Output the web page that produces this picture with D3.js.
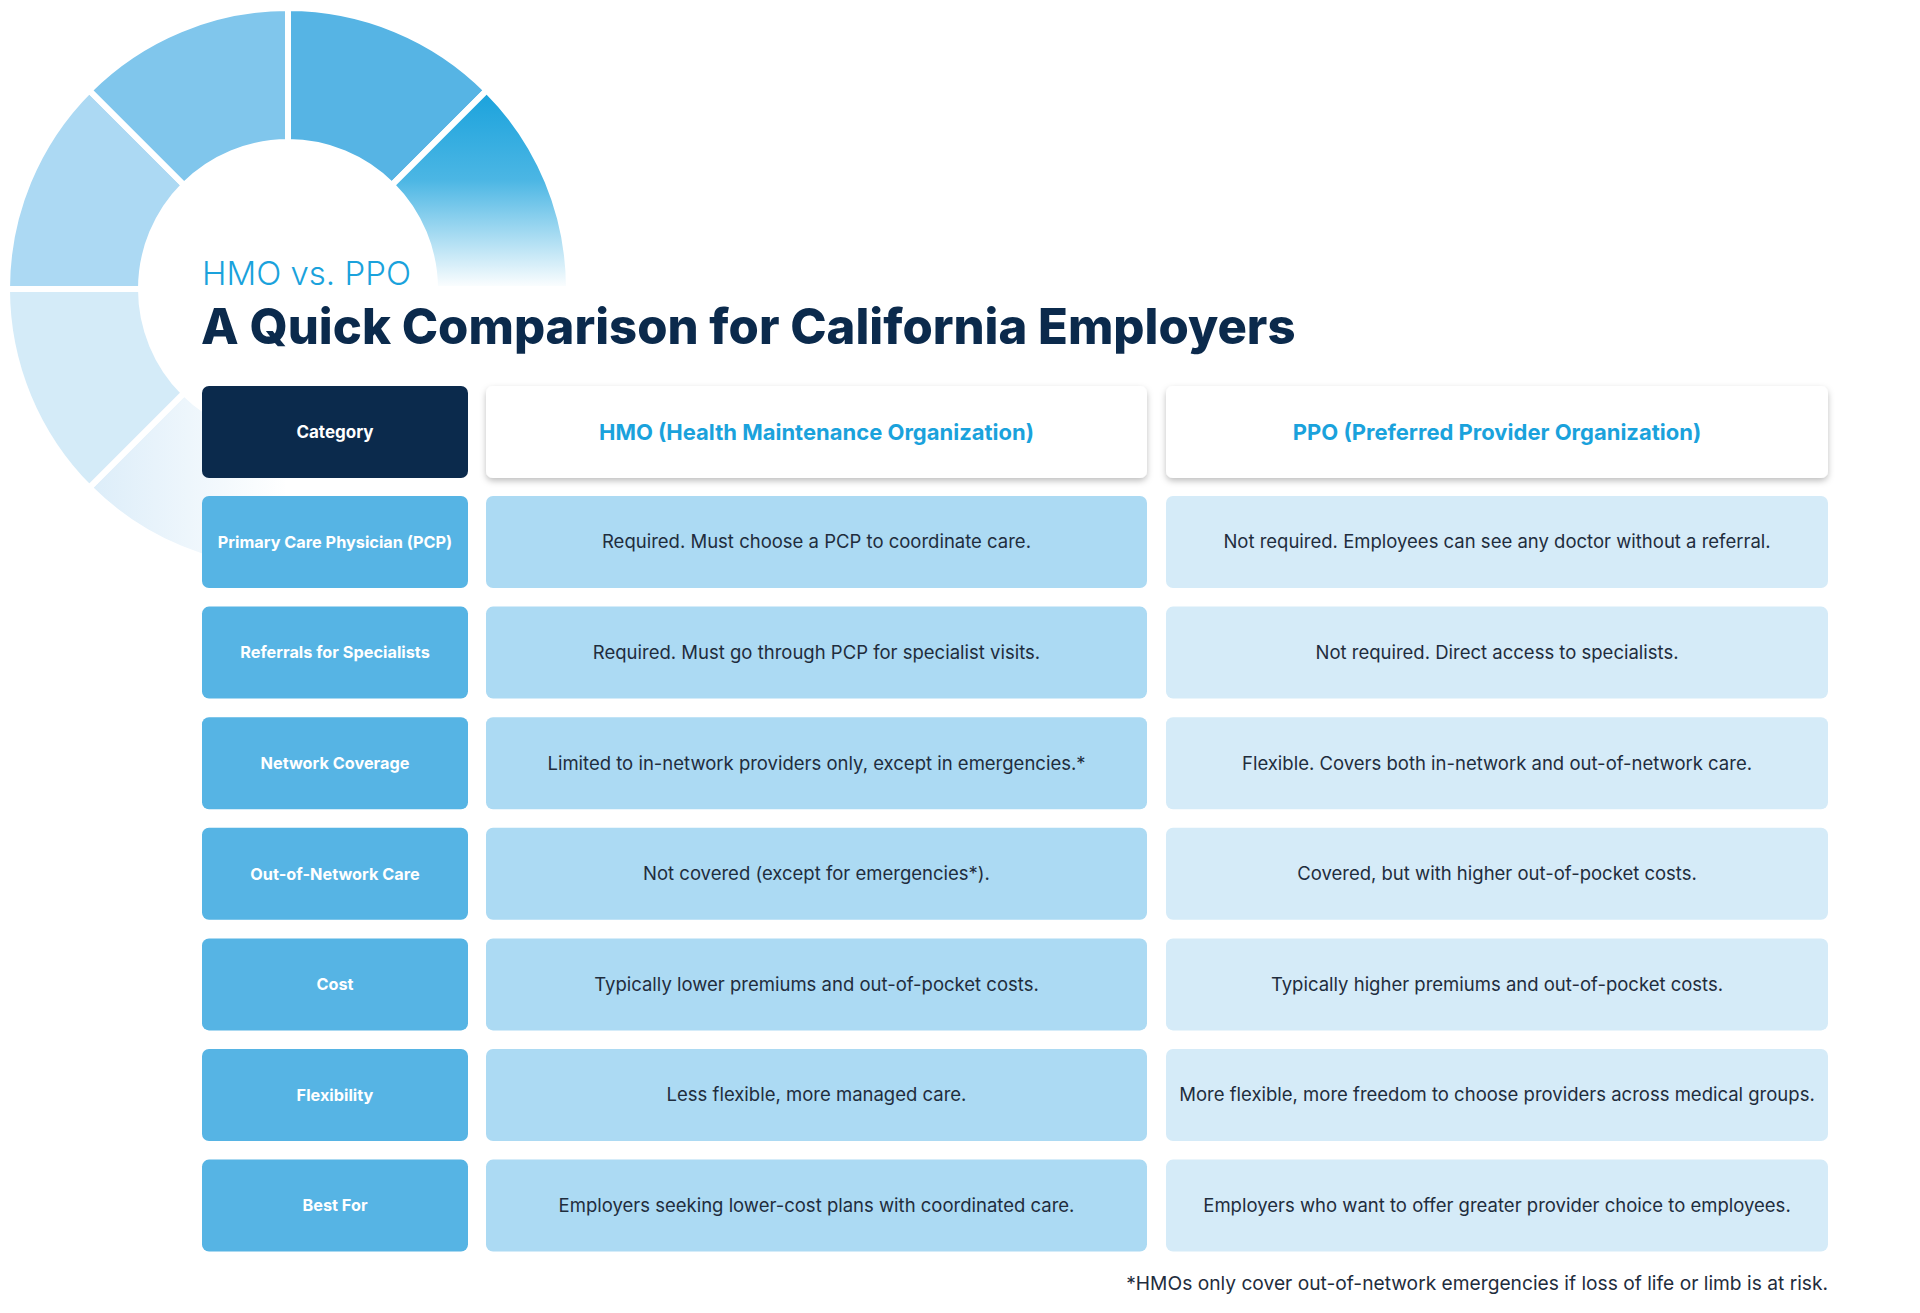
<!DOCTYPE html>
<html><head><meta charset="utf-8">
<script src="https://cdn.jsdelivr.net/npm/d3@7"></script>
<style>body{margin:0;background:#fff}svg{display:block;font-family:Inter,"Noto Sans",sans-serif}</style>
</head><body><svg id="c" width="1920" height="1313"></svg>
<script>
const categories=["Primary Care Physician (PCP)","Referrals for Specialists","Network Coverage","Out-of-Network Care","Cost","Flexibility","Best For"];
const hmoValues=["Required. Must choose a PCP to coordinate care.","Required. Must go through PCP for specialist visits.","Limited to in-network providers only, except in emergencies.*","Not covered (except for emergencies*).","Typically lower premiums and out-of-pocket costs.","Less flexible, more managed care.","Employers seeking lower-cost plans with coordinated care."];
const ppoValues=["Not required. Employees can see any doctor without a referral.","Not required. Direct access to specialists.","Flexible. Covers both in-network and out-of-network care.","Covered, but with higher out-of-pocket costs.","Typically higher premiums and out-of-pocket costs.","More flexible, more freedom to choose providers across medical groups.","Employers who want to offer greater provider choice to employees."];
const headers=["Category","HMO (Health Maintenance Organization)","PPO (Preferred Provider Organization)"];
const donutSegments=[1,1,1,1,1,1,1,1];

const svg=d3.select("#c");
const defs=svg.append("defs");
const g1=defs.append("linearGradient").attr("id","gA").attr("x1",0).attr("y1",0).attr("x2",0).attr("y2",1);
g1.append("stop").attr("offset","0").attr("stop-color","#1aa2dc");
g1.append("stop").attr("offset","0.45").attr("stop-color","#4bb6e4");
g1.append("stop").attr("offset","1").attr("stop-color","#ffffff");
const g2=defs.append("linearGradient").attr("id","gB").attr("x1",0).attr("y1",0).attr("x2",1).attr("y2",0);
g2.append("stop").attr("offset","0").attr("stop-color","#dcedf9");
g2.append("stop").attr("offset","1").attr("stop-color","#ffffff");
const f=defs.append("filter").attr("id","sh").attr("x","-10%").attr("y","-20%").attr("width","120%").attr("height","150%");
f.append("feDropShadow").attr("dx",0).attr("dy",3).attr("stdDeviation",3).attr("flood-color","#000").attr("flood-opacity",0.25);

const segColors=["#56b4e4","url(#gA)","#fff","#fff","url(#gB)","#d4ebf8","#acd9f3","#80c6ec"];
const pie=d3.pie().sort(null)(donutSegments);
const arc=d3.arc().innerRadius(147).outerRadius(281);
const dg=svg.append("g").attr("transform","translate(288,289)");
dg.selectAll("path").data(pie).join("path").attr("d",arc)
  .attr("fill",(d,i)=>segColors[i]).attr("stroke","#fff").attr("stroke-width",6);

svg.append("text").attr("x",202).attr("y",285).attr("font-size",33).attr("font-weight",300).attr("fill","#1aa2dc").text("HMO vs. PPO");
svg.append("text").attr("x",201).attr("y",344).attr("font-size",49).attr("font-weight",800).attr("fill","#0b2a4c").text("A Quick Comparison for California Employers");

const colX=[202,486,1166], colW=[266,661,662];
const step=110.6, cellH=92;
const y=d3.scaleBand().domain(d3.range(categories.length)).range([496,496+6*step+cellH]).paddingInner((step-cellH)/step).paddingOuter(0);
const hy=386,hh=92;
headers.forEach((h,i)=>{
  svg.append("rect").attr("x",colX[i]).attr("y",hy).attr("width",colW[i]).attr("height",hh).attr("rx",7)
   .attr("fill",i===0?"#0b2a4c":"#fff").attr("filter",i===0?null:"url(#sh)");
  svg.append("text").attr("x",colX[i]+colW[i]/2).attr("y",hy+hh/2).attr("dy","0.35em").attr("text-anchor","middle")
   .attr("font-size",i===0?17:22).attr("font-weight",700).attr("fill",i===0?"#fff":"#1aa2dc").text(h);
});
const cols=[{vals:categories,fill:"#56b4e4",tc:"#fff",fs:16.3,fw:700},{vals:hmoValues,fill:"#acdaf3",tc:"#1f2d3d",fs:18.5,fw:400},{vals:ppoValues,fill:"#d5ebf8",tc:"#1f2d3d",fs:18.5,fw:400}];
cols.forEach((c,ci)=>{
  const gg=svg.append("g");
  gg.selectAll("rect").data(c.vals).join("rect").attr("x",colX[ci]).attr("y",(d,i)=>y(i)).attr("width",colW[ci]).attr("height",y.bandwidth()).attr("rx",7).attr("fill",c.fill);
  gg.selectAll("text").data(c.vals).join("text").attr("x",colX[ci]+colW[ci]/2).attr("y",(d,i)=>y(i)+y.bandwidth()/2).attr("dy","0.35em")
    .attr("text-anchor","middle").attr("font-size",c.fs).attr("font-weight",c.fw).attr("fill",c.tc).text(d=>d);
});
svg.append("text").attr("x",1828).attr("y",1290).attr("text-anchor","end").attr("font-size",19.2).attr("fill","#1f2d3d")
  .text("*HMOs only cover out-of-network emergencies if loss of life or limb is at risk.");
</script></body></html>
